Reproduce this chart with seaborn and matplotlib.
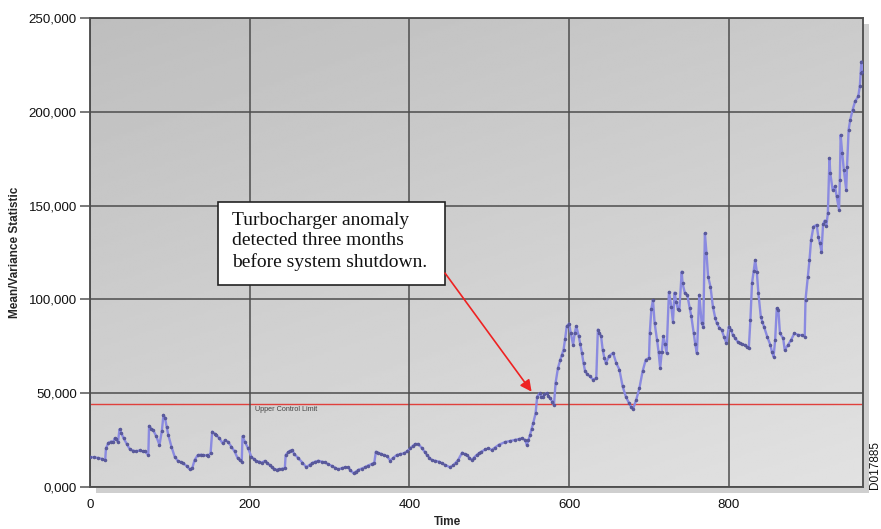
import numpy as np
import pandas as pd
import matplotlib
matplotlib.use("Agg")
import matplotlib.pyplot as plt
from matplotlib.patches import Rectangle
import seaborn as sns

# ---------------- data ----------------
time = [0, 5, 10, 15, 19, 20, 23, 26, 29, 31, 33, 35, 37, 39, 42, 46, 50, 54, 58, 62,
        66, 69, 73, 74, 77, 79, 83, 87, 90, 92, 94, 96, 98, 102, 106, 110, 114, 117, 121, 125,
        128, 131, 135, 139, 142, 146, 148, 151, 153, 156, 158, 162, 166, 169, 173, 177, 181, 185, 188, 190,
        191, 194, 198, 202, 205, 208, 212, 215, 219, 222, 225, 228, 231, 234, 237, 241, 244, 245, 248, 250,
        253, 256, 261, 266, 271, 275, 278, 282, 286, 290, 294, 298, 303, 307, 311, 315, 319, 323, 326, 330,
        333, 336, 340, 344, 348, 353, 356, 358, 361, 365, 368, 372, 376, 379, 384, 388, 393, 397, 401, 404,
        407, 411, 416, 419, 422, 425, 428, 432, 437, 441, 445, 451, 455, 458, 461, 466, 469, 472, 475, 478,
        481, 484, 487, 490, 495, 499, 503, 507, 512, 520, 526, 532, 537, 541, 545, 547, 549, 551, 553, 555,
        558, 560, 563, 565, 567, 569, 572, 574, 576, 579, 581, 583, 586, 589, 591, 593, 595, 597, 600, 602,
        605, 607, 609, 612, 614, 616, 618, 620, 623, 626, 630, 634, 636, 638, 640, 642, 644, 646, 650, 655,
        659, 663, 667, 671, 675, 678, 680, 684, 688, 692, 696, 700, 701, 703, 705, 707, 710, 712, 714, 716,
        718, 720, 722, 725, 728, 730, 732, 734, 736, 738, 741, 742, 745, 748, 751, 753, 756, 758, 760, 763,
        766, 768, 770, 772, 774, 777, 780, 783, 785, 788, 791, 794, 797, 800, 803, 805, 808, 811, 814, 817,
        820, 823, 825, 827, 829, 831, 833, 835, 837, 840, 842, 844, 848, 852, 854, 856, 858, 860, 862, 864,
        868, 870, 874, 878, 882, 887, 891, 895, 896, 899, 901, 903, 906, 910, 912, 914, 916, 918, 920, 922,
        924, 926, 927, 930, 933, 935, 938, 939, 940, 942, 944, 947, 948, 950, 952, 955, 958, 962, 964, 965,
        966, 967]

statistic_thousands = [
    16.0, 15.8, 15.5, 15.0, 14.2, 20.6, 23.5, 24.2, 24.0, 26.0, 25.5, 24.0, 30.8, 29.0, 26.0, 23.0, 20.0, 19.4, 19.0, 19.5,
    19.0, 19.0, 17.0, 32.6, 31.0, 30.4, 27.0, 22.4, 30.0, 38.4, 36.7, 32.0, 27.8, 21.5, 16.2, 13.9, 13.2, 12.6, 11.2, 9.4,
    10.0, 14.4, 17.0, 17.2, 17.0, 16.8, 16.7, 18.0, 29.5, 28.5, 27.8, 26.0, 23.3, 25.0, 24.0, 21.5, 19.0, 15.3, 14.2, 13.5,
    27.0, 24.0, 20.6, 16.2, 15.0, 13.9, 13.5, 13.0, 13.9, 12.8, 11.7, 10.5, 9.4, 9.3, 9.4, 9.8, 10.0, 17.0, 18.5, 19.2,
    19.7, 17.5, 15.3, 13.0, 10.5, 11.8, 12.7, 13.5, 14.0, 13.5, 13.2, 12.2, 11.2, 10.3, 9.4, 10.0, 10.5, 10.5, 9.0, 7.3,
    8.2, 9.1, 9.8, 10.5, 11.4, 12.3, 13.0, 18.8, 18.2, 17.6, 17.0, 16.5, 14.0, 15.3, 17.0, 17.5, 17.9, 19.0, 20.6, 21.8,
    22.9, 22.9, 20.6, 18.8, 17.0, 15.7, 14.4, 14.0, 13.5, 12.6, 11.7, 10.5, 11.7, 13.0, 14.4, 18.3, 17.6, 17.0, 15.7, 14.4,
    15.7, 17.0, 18.0, 18.8, 20.0, 20.6, 19.7, 21.0, 22.5, 24.0, 24.5, 25.1, 25.5, 26.0, 25.0, 22.4, 25.0, 27.7, 31.0, 34.0,
    39.3, 48.2, 50.0, 48.0, 48.2, 49.5, 50.0, 48.5, 47.3, 45.5, 43.8, 55.4, 63.4, 67.9, 70.5, 73.2, 79.0, 85.7, 87.1, 82.1,
    75.8, 82.1, 85.7, 80.4, 76.0, 71.5, 66.0, 61.7, 60.0, 59.0, 57.2, 58.1, 83.9, 82.0, 80.4, 73.2, 69.0, 66.1, 69.7, 71.5,
    66.1, 62.5, 53.6, 48.2, 44.7, 42.5, 41.5, 46.5, 52.7, 61.7, 67.9, 68.8, 82.1, 95.0, 99.7, 87.5, 78.6, 72.0, 63.4, 72.0,
    80.4, 76.0, 71.5, 104.0, 96.0, 88.0, 103.6, 98.8, 95.0, 94.4, 114.8, 108.6, 103.3, 102.4, 95.3, 91.0, 81.9, 76.0, 71.3, 102.4,
    87.3, 85.5, 135.3, 124.6, 112.2, 106.8, 96.2, 90.0, 87.3, 85.0, 83.7, 80.0, 76.6, 85.5, 83.7, 81.0, 79.3, 77.5, 76.6, 76.0,
    75.7, 74.5, 73.9, 89.1, 108.6, 115.0, 121.0, 114.8, 103.3, 90.8, 88.0, 85.5, 80.2, 75.7, 72.0, 69.5, 78.4, 95.3, 94.4, 81.9,
    79.3, 73.0, 75.7, 78.4, 81.9, 81.0, 81.0, 80.2, 99.7, 112.2, 121.0, 131.7, 138.8, 139.7, 133.5, 130.0, 125.5, 140.0, 142.0, 138.9,
    146.0, 175.3, 167.3, 158.4, 160.2, 154.9, 147.8, 163.7, 187.7, 177.9, 169.0, 158.4, 170.8, 190.4, 195.7, 201.0, 205.5, 208.2, 213.5, 220.6,
    226.8, 221.0]

upper_control_limit = 44000
x_ticks = [0, 200, 400, 600, 800]
y_ticks = [0, 50000, 100000, 150000, 200000, 250000]
y_tick_labels = ["0,000", "50,000", "100,000", "150,000", "200,000", "250,000"]
annotation_text = "Turbocharger anomaly\ndetected three months\nbefore system shutdown."

df = pd.DataFrame({"Time": time,
                   "Statistic": np.array(statistic_thousands) * 1000})

# ---------------- figure ----------------
sns.set_style("white")
plt.rcParams["font.family"] = ["Liberation Sans", "DejaVu Sans"]

W, H = 881, 529
fig = plt.figure(figsize=(W / 100, H / 100), dpi=100)
L, R, T, B = 90, 863, 18, 487
ax = fig.add_axes([L / W, (H - B) / H, (R - L) / W, (B - T) / H])

# drop shadow of the plot panel
fig.patches.append(Rectangle(((L + 6) / W, (H - B - 6) / H), (R - L) / W, (B - T) / H,
                             transform=fig.transFigure, facecolor="#a0a0a0",
                             edgecolor="none", alpha=0.5, zorder=-5))

# gradient background: darker at top-left, lighter at bottom-right
gx, gy = np.meshgrid(np.linspace(0, 1, 200), np.linspace(0, 1, 200))
grad = 0.745 + 0.05 * gx + 0.09 * gy
ax.imshow(grad, extent=(0, 1, 0, 1), origin="upper", transform=ax.transAxes, cmap="gray",
          vmin=0, vmax=1, aspect="auto", zorder=0, interpolation="bilinear")

ax.set_xlim(0, 968)
ax.set_ylim(0, 250000)

ax.set_xticks(x_ticks)
ax.set_yticks(y_ticks)
ax.set_yticklabels(y_tick_labels)
ax.grid(True, color="#4d4d4d", linewidth=1.1, zorder=1)
ax.set_axisbelow(False)

ax.axhline(upper_control_limit, color="#e0403c", linewidth=1.0, zorder=2)
ax.text(207, 40500, "Upper Control Limit", fontsize=5.2, color="#444444", zorder=3)

sns.lineplot(data=df, x="Time", y="Statistic", ax=ax, color="#8a8ae0", linewidth=1.7,
             marker="o", markersize=2.2, markerfacecolor="#5c5ca0",
             markeredgecolor="#4a4a88", markeredgewidth=0.3, zorder=4)

for s in ax.spines.values():
    s.set_color("#555555")
    s.set_linewidth(1.4)

ax.tick_params(axis="y", length=7.5, width=1.1, color="#555555", pad=2,
               labelsize=9.6, labelcolor="#111111", left=True)
ax.tick_params(axis="x", length=0, pad=9, labelsize=9.6, labelcolor="#111111", bottom=True)

ax.set_xlabel("")
ax.set_ylabel("")
fig.text(15 / W, 1 - 252 / H, "Mean/Variance Statistic", rotation=90, fontsize=8.5,
         fontweight="bold", ha="center", va="center")
fig.text(448 / W, 1 - 522 / H, "Time", fontsize=8.5, fontweight="bold",
         ha="center", va="center")
fig.text(875 / W, 1 - 465 / H, "D017885", rotation=90, fontsize=8.5,
         ha="center", va="center", color="#111111")

# annotation box and arrow
x0, x1 = 160.3, 444.6
y0, y1 = 107700, 152000
ax.add_patch(Rectangle((x0, y0), x1 - x0, y1 - y0, facecolor="white",
                       edgecolor="#222222", linewidth=1.2, zorder=6))
ax.text(177.5, 146800, annotation_text, family=["Liberation Serif", "DejaVu Serif"],
        fontsize=14, va="top", ha="left", linespacing=1.28, zorder=7, color="#111111")
ax.annotate("", xy=(553, 50800), xytext=(444.6, 114000),
            arrowprops=dict(arrowstyle="-|>", color="#ee2222", lw=1.2,
                            mutation_scale=17, shrinkA=0, shrinkB=0), zorder=8)

fig.savefig("out.png", dpi=100)
